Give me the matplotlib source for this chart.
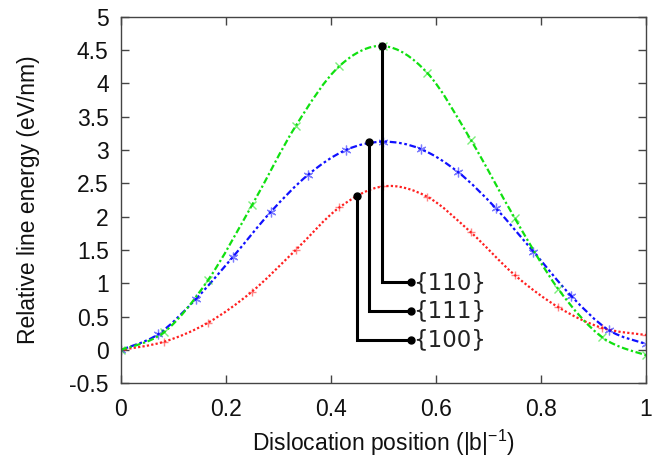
import numpy as np
import matplotlib
matplotlib.use("Agg")
import matplotlib.pyplot as plt
from matplotlib.path import Path
from matplotlib.patches import PathPatch

# Line energy profiles along the Peierls path for three glide planes
x_110 = [i / 12 for i in range(13)]
e_110 = [0.0, 0.27, 1.05, 2.17, 3.36, 4.26, 4.56, 4.16, 3.15, 1.98, 0.91, 0.19, -0.08]

x_111 = [i / 14 for i in range(15)]
e_111 = [0.0, 0.235, 0.76, 1.40, 2.07, 2.63, 3.0, 3.125, 3.015, 2.665, 2.125, 1.475, 0.815, 0.30, 0.09]

x_100 = [i / 12 for i in range(13)]
e_100 = [0.0, 0.125, 0.41, 0.875, 1.5, 2.14, 2.455, 2.3, 1.765, 1.125, 0.64, 0.33, 0.225]

# Callouts: label, point on curve (x, y), elbow height
labels = ["{110}", "{111}", "{100}"]
label_x = [0.497, 0.4735, 0.4494]
label_y = [4.56, 3.115, 2.315]
elbow_y = [1.015, 0.585, 0.15]
label_end_x = 0.552

xticks = [0, 0.2, 0.4, 0.6, 0.8, 1]
yticks = [-0.5, 0, 0.5, 1, 1.5, 2, 2.5, 3, 3.5, 4, 4.5, 5]


def smooth_path(xs, ys):
    """Catmull-Rom curve through the points, expressed as cubic Bezier segments."""
    p = np.column_stack([xs, ys]).astype(float)
    pts = np.vstack([p[0], p, p[-1]])
    verts = [p[0]]
    codes = [Path.MOVETO]
    for i in range(1, len(pts) - 2):
        p0, p1, p2, p3 = pts[i - 1], pts[i], pts[i + 1], pts[i + 2]
        c1 = p1 + (p2 - p0) / 6.0
        c2 = p2 - (p3 - p1) / 6.0
        verts += [c1, c2, p2]
        codes += [Path.CURVE4] * 3
    return Path(verts, codes)


plt.rcParams["font.family"] = ["Liberation Sans", "DejaVu Sans"]
plt.rcParams["mathtext.default"] = "regular"

fig = plt.figure(figsize=(6.64, 4.61), dpi=100)
ax = fig.add_axes([0.1815, 0.1685, 0.7915, 0.7953])

series = [
    (x_100, e_100, "#ff2020", (0, (1, 1)), "+", 6, 1.0),
    (x_111, e_111, "#1010ff", (0, (1.2, 1.2, 1.2, 1.2, 3, 1.2)), (6, 2, 0), 7, 0.9),
    (x_110, e_110, "#10e010", (0, (3, 1.2, 1, 1.2)), "x", 6, 1.0),
]
for xs, ys, color, dash, marker, ms, mew in series:
    patch = PathPatch(smooth_path(xs, ys), fill=False, edgecolor=color,
                      linewidth=1.6, linestyle=dash, transform=ax.transData,
                      zorder=2, capstyle="butt")
    ax.add_patch(patch)
    ax.plot(xs, ys, linestyle="none", marker=marker, markersize=ms,
            markeredgewidth=mew, color=color, alpha=0.55, zorder=2)

for lab, lx, ly, ey in zip(labels, label_x, label_y, elbow_y):
    ax.plot([lx, lx, label_end_x], [ly, ey, ey], color="black", lw=2.2,
            solid_joinstyle="miter", zorder=4)
    ax.plot([lx, label_end_x], [ly, ey], linestyle="none", marker="o",
            markersize=5, color="black", zorder=5)
    ax.text(label_end_x + 0.004, ey, lab, fontsize=16.5, family="DejaVu Sans",
            va="center", ha="left", zorder=5, color="#222222")

ax.set_xlim(0, 1)
ax.set_ylim(-0.5, 5)
ax.set_xticks(xticks)
ax.set_xticklabels([f"{v:g}" for v in xticks])
ax.set_yticks(yticks)
ax.set_yticklabels([f"{v:g}" for v in yticks])
ax.tick_params(direction="in", length=6, width=1, top=True, right=True,
               labelsize=16.5, color="#444444", labelcolor="#111111")
ax.tick_params(axis="x", pad=10.5)
ax.tick_params(axis="y", pad=8.5)
for s in ax.spines.values():
    s.set_color("#444444")
    s.set_linewidth(1.0)

ax.set_xlabel("Dislocation position (|b|$^{-1}$)", fontsize=16.5, labelpad=5,
              color="#111111")
ax.set_ylabel("Relative line energy (eV/nm)", fontsize=16.5, labelpad=21,
              color="#111111")

fig.savefig("out.png", dpi=100)
